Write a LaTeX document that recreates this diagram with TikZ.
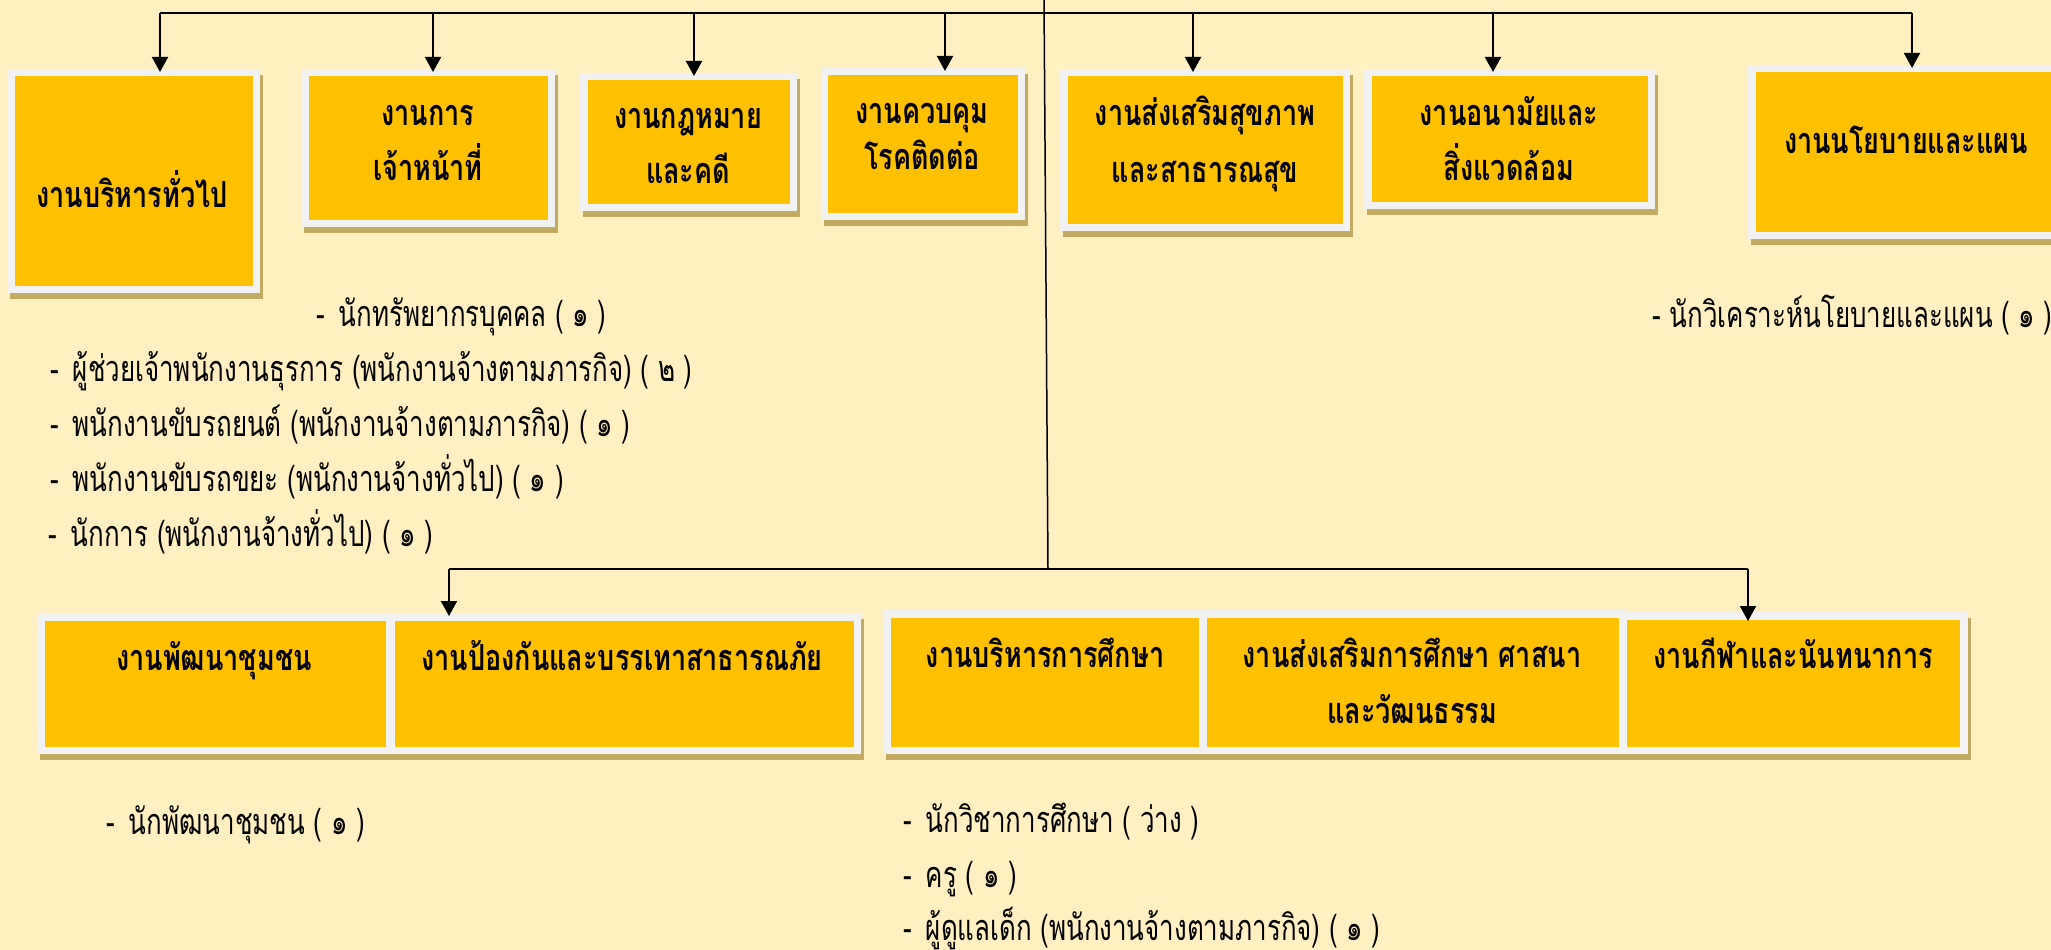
\documentclass[tikz,border=0pt]{standalone}
\usepackage{fontspec}
\newfontfamily\thaibox[Script=Thai,FakeStretch=0.75]{Loma}
\newfontfamily\thailist[Script=Thai,FakeStretch=0.72]{Loma}
\usetikzlibrary{shadows,arrows.meta}
\definecolor{bg}{HTML}{FFF0C2}
\definecolor{boxorange}{HTML}{FFC000}
\definecolor{framec}{HTML}{F2F2F2}
\definecolor{shadowc}{HTML}{C4A962}
\newcommand{\dsh}[1]{-\hspace{#1}}
\begin{document}
\begin{tikzpicture}[x=1pt,y=-1pt,
  jobbox/.style={fill=framec, inner sep=0pt, outer sep=0pt, draw=none,
    drop shadow={shadow xshift=3pt,shadow yshift=-6pt,fill=shadowc,opacity=1},
    path picture={\fill[boxorange] ([shift={(7.5pt,-7.5pt)}]path picture bounding box.north west) rectangle ([shift={(-7.5pt,7.5pt)}]path picture bounding box.south east);}},
  boxtext/.style={font=\thaibox\bfseries\fontsize{36}{40}\selectfont, inner sep=0pt, anchor=base},
  listtext/.style={font=\thailist\fontsize{36}{40}\selectfont, inner sep=0pt, anchor=base west},
  bus/.style={line width=2pt},
  arr/.style={line width=2pt, -{Triangle[width=16pt,length=15pt]}, shorten >=-3pt},
]
\useasboundingbox (0,0) rectangle (2051,950);
\clip (0,0) rectangle (2051,950);
\fill[bg] (0,0) rectangle (2051,950);

% connectors (buses)
\coordinate (a1) at (160,13);
\coordinate (a2) at (433,13);
\coordinate (a3) at (694,13);
\coordinate (a4) at (945,13);
\coordinate (a5) at (1193,13);
\coordinate (a6) at (1493,13);
\coordinate (a7) at (1912,13);
\coordinate (vtop) at (1044,0);
\coordinate (vbot) at (1048,569);
\coordinate (lowL) at (449,569);
\coordinate (lowR) at (1748,569);
\draw[bus] (a1) -- (a7);
\draw[line width=1.5pt] (vtop) -- (vbot);
\draw[bus] (lowL) -- (lowR);

% boxes
\node[jobbox, minimum width=253pt, minimum height=224pt] (b1) at (133.5,181) {};
\node[jobbox, minimum width=254pt, minimum height=158pt] (b2) at (428,148) {};
\node[jobbox, minimum width=217pt, minimum height=138pt] (b3) at (688.5,142) {};
\node[jobbox, minimum width=204.5pt, minimum height=152pt] (b4) at (922.75,144) {};
\node[jobbox, minimum width=290pt, minimum height=162pt] (b5) at (1205,150) {};
\node[jobbox, minimum width=291pt, minimum height=140pt] (b6) at (1509.5,139) {};
\node[jobbox, minimum width=316pt, minimum height=174pt] (b7) at (1906,152) {};
\node[jobbox, minimum width=356pt, minimum height=141pt] (b8) at (215,683.5) {};
\node[jobbox, minimum width=474pt, minimum height=141pt] (b9) at (624,683.5) {};
\node[jobbox, minimum width=323pt, minimum height=144pt] (b10) at (1044.5,682) {};
\node[jobbox, minimum width=426.5pt, minimum height=144pt] (b11) at (1412.75,682) {};
\node[jobbox, minimum width=348pt, minimum height=142pt] (b12) at (1793.5,683) {};

% arrows
\draw[arr] (a1) -- (a1 |- b1.north);
\draw[arr] (a2) -- (a2 |- b2.north);
\draw[arr] (a3) -- (a3 |- b3.north);
\draw[arr] (a4) -- (a4 |- b4.north);
\draw[arr] (a5) -- (a5 |- b5.north);
\draw[arr] (a6) -- (a6 |- b6.north);
\draw[arr] (a7) -- (a7 |- b7.north);
\draw[arr] (lowL) -- (lowL |- b9.north);
\draw[arr, shorten >=-9pt] (lowR) -- (lowR |- b12.north);

% box texts
\node[boxtext] (t1) at (132,207) {งานบริหารทั่วไป};
\node[boxtext] (t2a) at (428,125) {งานการ};
\node[boxtext] (t2b) at (428,180) {เจ้าหน้าที่};
\node[boxtext] (t3a) at (688,128) {งานกฎหมาย};
\node[boxtext] (t3b) at (688,183) {และคดี};
\node[boxtext] (t4a) at (922,123) {งานควบคุม};
\node[boxtext] (t4b) at (922,169) {โรคติดต่อ};
\node[boxtext] (t5a) at (1205,125) {งานส่งเสริมสุขภาพ};
\node[boxtext] (t5b) at (1205,182) {และสาธารณสุข};
\node[boxtext] (t6a) at (1509,125) {งานอนามัยและ};
\node[boxtext] (t6b) at (1509,180) {สิ่งแวดล้อม};
\node[boxtext] (t7) at (1906,153) {งานนโยบายและแผน};
\node[boxtext] (t8) at (214,670) {งานพัฒนาชุมชน};
\node[boxtext] (t9) at (622,670) {งานป้องกันและบรรเทาสาธารณภัย};
\node[boxtext] (t10) at (1045,667) {งานบริหารการศึกษา};
\node[boxtext] (t11a) at (1412,667) {งานส่งเสริมการศึกษา ศาสนา};
\node[boxtext] (t11b) at (1412,723) {และวัฒนธรรม};
\node[boxtext] (t12) at (1793,668) {งานกีฬาและนันทนาการ};

% staff lists
\node[listtext] (l1) at (316,326) {\dsh{14pt}นักทรัพยากรบุคคล ( ๑ )};
\node[listtext] (l2) at (50,381) {\dsh{14pt}ผู้ช่วยเจ้าพนักงานธุรการ (พนักงานจ้างตามภารกิจ) ( ๒ )};
\node[listtext] (l3) at (50,436) {\dsh{14pt}พนักงานขับรถยนต์ (พนักงานจ้างตามภารกิจ) ( ๑ )};
\node[listtext] (l4) at (50,491) {\dsh{14pt}พนักงานขับรถขยะ (พนักงานจ้างทั่วไป) ( ๑ )};
\node[listtext] (l5) at (48,546) {\dsh{14pt}นักการ (พนักงานจ้างทั่วไป) ( ๑ )};
\node[listtext] (r1) at (1652,327) {\dsh{9pt}นักวิเคราะห์นโยบายและแผน ( ๑ )};
\node[listtext] (l6) at (106,834) {\dsh{14pt}นักพัฒนาชุมชน ( ๑ )};
\node[listtext] (m1) at (903,832) {\dsh{14pt}นักวิชาการศึกษา ( ว่าง )};
\node[listtext] (m2) at (903,887) {\dsh{14pt}ครู ( ๑ )};
\node[listtext] (m3) at (903,940) {\dsh{14pt}ผู้ดูแลเด็ก (พนักงานจ้างตามภารกิจ) ( ๑ )};
\end{tikzpicture}
\end{document}
